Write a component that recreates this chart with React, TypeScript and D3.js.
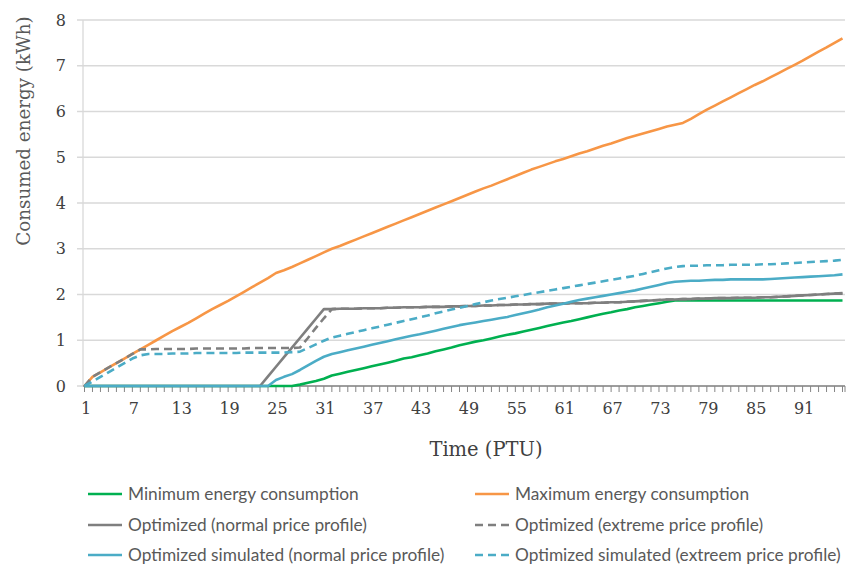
import React from 'react';
import * as d3 from 'd3';

// PTU categories 1..96
const ptu: number[] = d3.range(1, 97);
const xTickLabels: number[] = [1, 7, 13, 19, 25, 31, 37, 43, 49, 55, 61, 67, 73, 79, 85, 91];
const yTicks: number[] = [0, 1, 2, 3, 4, 5, 6, 7, 8];

const minEnergy: number[] = [
  0, 0, 0, 0, 0, 0, 0, 0, 0, 0, 0, 0, 0, 0, 0, 0, 0, 0, 0, 0, 0, 0, 0, 0, 0, 0, 0,
  0.03, 0.07, 0.11, 0.16, 0.23, 0.27, 0.31, 0.35, 0.39, 0.43, 0.47, 0.51, 0.55,
  0.6, 0.63, 0.67, 0.71, 0.76, 0.8, 0.84, 0.89, 0.93, 0.97, 1.0, 1.04, 1.08, 1.12, 1.15,
  1.19, 1.23, 1.27, 1.31, 1.35, 1.39, 1.42, 1.46, 1.5, 1.54, 1.58, 1.61, 1.65, 1.68, 1.72,
  1.75, 1.78, 1.81, 1.84, 1.87, 1.87, 1.87, 1.87, 1.87, 1.87, 1.87, 1.87, 1.87, 1.87, 1.87,
  1.87, 1.87, 1.87, 1.87, 1.87, 1.87, 1.87, 1.87, 1.87, 1.87, 1.87,
];

const maxEnergy: number[] = [
  0, 0.2, 0.3, 0.4, 0.5, 0.6, 0.7, 0.8,
  0.9, 1.0, 1.1, 1.2, 1.29, 1.38, 1.48, 1.58, 1.68, 1.77, 1.86, 1.96, 2.06, 2.16, 2.26, 2.36, 2.47,
  2.53, 2.6, 2.68, 2.76, 2.84, 2.92, 3.0, 3.06, 3.13, 3.2, 3.27, 3.34, 3.41, 3.48, 3.55,
  3.62, 3.69, 3.76, 3.83, 3.9, 3.97, 4.04, 4.11, 4.18, 4.25, 4.32, 4.38, 4.45, 4.52, 4.59,
  4.66, 4.73, 4.79, 4.85, 4.91, 4.96, 5.02, 5.08, 5.13, 5.19, 5.25, 5.3, 5.36, 5.42, 5.47,
  5.52, 5.57, 5.62, 5.67, 5.71, 5.75, 5.84, 5.94, 6.04, 6.13, 6.22, 6.31, 6.4, 6.49, 6.58,
  6.66, 6.75, 6.84, 6.93, 7.02, 7.11, 7.21, 7.31, 7.4, 7.5, 7.6,
];

const optNormal: number[] = [
  0, 0, 0, 0, 0, 0, 0, 0, 0, 0, 0, 0, 0, 0, 0, 0, 0, 0, 0, 0, 0, 0, 0,
  0.21, 0.42, 0.63, 0.84, 1.05, 1.26, 1.47, 1.68,
  1.68, 1.69, 1.69, 1.69, 1.7, 1.7, 1.7, 1.71, 1.71, 1.72, 1.72, 1.72, 1.73, 1.73,
  1.73, 1.74, 1.74, 1.75, 1.75, 1.76, 1.76, 1.77, 1.77, 1.78, 1.78, 1.79, 1.79, 1.8, 1.8,
  1.8, 1.81, 1.81, 1.81, 1.82, 1.82, 1.83, 1.83, 1.84, 1.85, 1.86, 1.87, 1.88, 1.89, 1.89,
  1.9, 1.9, 1.91, 1.91, 1.92, 1.92, 1.92, 1.93, 1.93, 1.93, 1.94, 1.94, 1.95, 1.96, 1.97,
  1.98, 1.99, 2.0, 2.01, 2.02, 2.03,
];

const optExtreme: number[] = [
  0, 0.2, 0.3, 0.4, 0.5, 0.6, 0.7, 0.8,
  0.8, 0.81, 0.81, 0.81, 0.81, 0.81, 0.82, 0.82, 0.82, 0.82, 0.82, 0.82, 0.82,
  0.83, 0.83, 0.83, 0.83, 0.83, 0.83,
  0.84, 1.05, 1.27, 1.48, 1.68,
  1.69, 1.69, 1.69, 1.7, 1.7, 1.7, 1.71, 1.71, 1.72, 1.72, 1.72, 1.73, 1.73,
  1.73, 1.74, 1.74, 1.75, 1.75, 1.76, 1.76, 1.77, 1.77, 1.78, 1.78, 1.79, 1.79, 1.8, 1.8,
  1.8, 1.81, 1.81, 1.81, 1.82, 1.82, 1.83, 1.83, 1.84, 1.85, 1.86, 1.87, 1.88, 1.89, 1.89,
  1.9, 1.9, 1.91, 1.91, 1.92, 1.92, 1.92, 1.93, 1.93, 1.93, 1.94, 1.94, 1.95, 1.96, 1.97,
  1.98, 1.99, 2.0, 2.01, 2.02, 2.02,
];

const simNormal: number[] = [
  0, 0, 0, 0, 0, 0, 0, 0, 0, 0, 0, 0, 0, 0, 0, 0, 0, 0, 0, 0, 0, 0, 0, 0,
  0.13, 0.2, 0.26, 0.35, 0.45, 0.55, 0.64, 0.7, 0.74, 0.78, 0.82, 0.86, 0.9, 0.94, 0.98, 1.02,
  1.06, 1.1, 1.13, 1.17, 1.21, 1.25, 1.29, 1.33, 1.36, 1.39, 1.42, 1.45, 1.48, 1.51, 1.55,
  1.59, 1.63, 1.67, 1.72, 1.76, 1.8, 1.84, 1.88, 1.91, 1.94, 1.97, 2.0, 2.03, 2.06, 2.09,
  2.13, 2.17, 2.21, 2.25, 2.28, 2.29, 2.3, 2.3, 2.31, 2.32, 2.32, 2.33, 2.33, 2.33, 2.33,
  2.33, 2.34, 2.35, 2.36, 2.37, 2.38, 2.39, 2.4, 2.41, 2.42, 2.44,
];

const simExtreme: number[] = [
  0, 0.1, 0.2, 0.3, 0.4, 0.5, 0.6, 0.67,
  0.7, 0.7, 0.7, 0.71, 0.71, 0.71, 0.72, 0.72, 0.72, 0.72, 0.72, 0.72,
  0.73, 0.73, 0.73, 0.73, 0.73, 0.73, 0.74,
  0.75, 0.83, 0.91, 0.99, 1.06, 1.1, 1.14, 1.18, 1.22, 1.26, 1.3, 1.34, 1.38,
  1.42, 1.46, 1.5, 1.54, 1.59, 1.63, 1.67, 1.71, 1.75, 1.79, 1.83, 1.87, 1.9, 1.93, 1.96,
  1.99, 2.02, 2.05, 2.08, 2.11, 2.14, 2.17, 2.2, 2.23, 2.26, 2.29, 2.32, 2.35, 2.38, 2.41,
  2.45, 2.49, 2.53, 2.57, 2.6, 2.62, 2.63, 2.63, 2.64, 2.64, 2.64, 2.65, 2.65, 2.65, 2.65,
  2.66, 2.66, 2.67, 2.68, 2.69, 2.7, 2.71, 2.72, 2.73, 2.74, 2.76,
];

const seriesNames: string[] = [
  'Minimum energy consumption',
  'Maximum energy consumption',
  'Optimized (normal price profile)',
  'Optimized (extreme price profile)',
  'Optimized simulated (normal price profile)',
  'Optimized simulated (extreem price profile)',
];
const seriesValues: number[][] = [minEnergy, maxEnergy, optNormal, optExtreme, simNormal, simExtreme];
const seriesColors: string[] = ['#00B050', '#F79646', '#7F7F7F', '#7F7F7F', '#4BACC6', '#4BACC6'];
const seriesDashed: boolean[] = [false, false, false, true, false, true];

export default function App() {
  const W = 847;
  const H = 565;
  const x = d3.scaleLinear().domain([1, 96]).range([84.5, 842.5]);
  const y = d3.scaleLinear().domain([0, 8]).range([386, 20]);
  const line = d3
    .line<number>()
    .x((_d, i) => x(ptu[i]))
    .y((d) => y(d));

  const serif = "'DejaVu Serif', serif";
  const sans = "Lato, 'Open Sans', sans-serif";
  const textColor = '#595959';

  const legendCols = [88, 475];
  const legendRows = [494, 525, 555];

  return (
    <svg
      width={W}
      height={H}
      style={{ position: 'absolute', left: 0, top: 0, background: '#fff' }}
    >
      <rect x={0} y={0} width={W} height={H} fill="#fff" />
      {/* gridlines */}
      {yTicks.map((t) => (
        <line key={'g' + t} x1={77} x2={845} y1={y(t)} y2={y(t)} stroke="#D9D9D9" strokeWidth={1.3} />
      ))}
      {/* y axis line */}
      <line x1={83} x2={83} y1={y(8)} y2={y(0)} stroke="#D9D9D9" strokeWidth={1.3} />
      {/* y tick labels */}
      {yTicks.map((t) => (
        <text
          key={'yl' + t}
          x={66}
          y={y(t)}
          dy="0.35em"
          textAnchor="end"
          fontFamily={serif}
          fontSize={16}
          fill="#404040"
        >
          {t}
        </text>
      ))}
      {/* x axis */}
      <line x1={83} x2={845} y1={386} y2={386} stroke="#868686" strokeWidth={1.3} />
      {ptu.map((p) => (
        <line key={'xt' + p} x1={x(p)} x2={x(p)} y1={386} y2={392} stroke="#868686" strokeWidth={1} />
      ))}
      <line x1={845} x2={845} y1={386} y2={392} stroke="#868686" strokeWidth={1} />
      {xTickLabels.map((p) => (
        <text
          key={'xl' + p}
          x={x(p) + 1.5}
          y={414}
          textAnchor="middle"
          fontFamily={serif}
          fontSize={16}
          fill="#404040"
        >
          {p}
        </text>
      ))}
      {/* axis titles */}
      <text
        transform={`translate(30,131) rotate(-90)`}
        textAnchor="middle"
        fontFamily={serif}
        fontSize={18.3}
        fill={textColor}
      >
        Consumed energy (kWh)
      </text>
      <text x={486} y={456} textAnchor="middle" fontFamily={serif} fontSize={19.5} fill="#404040">
        Time (PTU)
      </text>
      {/* series */}
      {seriesValues.map((vals, si) => (
        <path
          key={'s' + si}
          d={line(vals) || ''}
          fill="none"
          stroke={seriesColors[si]}
          strokeWidth={2.6}
          strokeDasharray={seriesDashed[si] ? '8,5' : undefined}
          strokeLinejoin="round"
        />
      ))}
      {/* legend */}
      {seriesNames.map((name, si) => {
        const cx = legendCols[si % 2];
        const cy = legendRows[Math.floor(si / 2)];
        return (
          <g key={'lg' + si}>
            <line
              x1={cx}
              x2={cx + 34}
              y1={cy}
              y2={cy}
              stroke={seriesColors[si]}
              strokeWidth={2.6}
              strokeDasharray={seriesDashed[si] ? '8,5' : undefined}
            />
            <text x={cx + 40} y={cy} dy="0.35em" fontFamily={sans} fontSize={17.3} fill={textColor}>
              {name}
            </text>
          </g>
        );
      })}
    </svg>
  );
}
